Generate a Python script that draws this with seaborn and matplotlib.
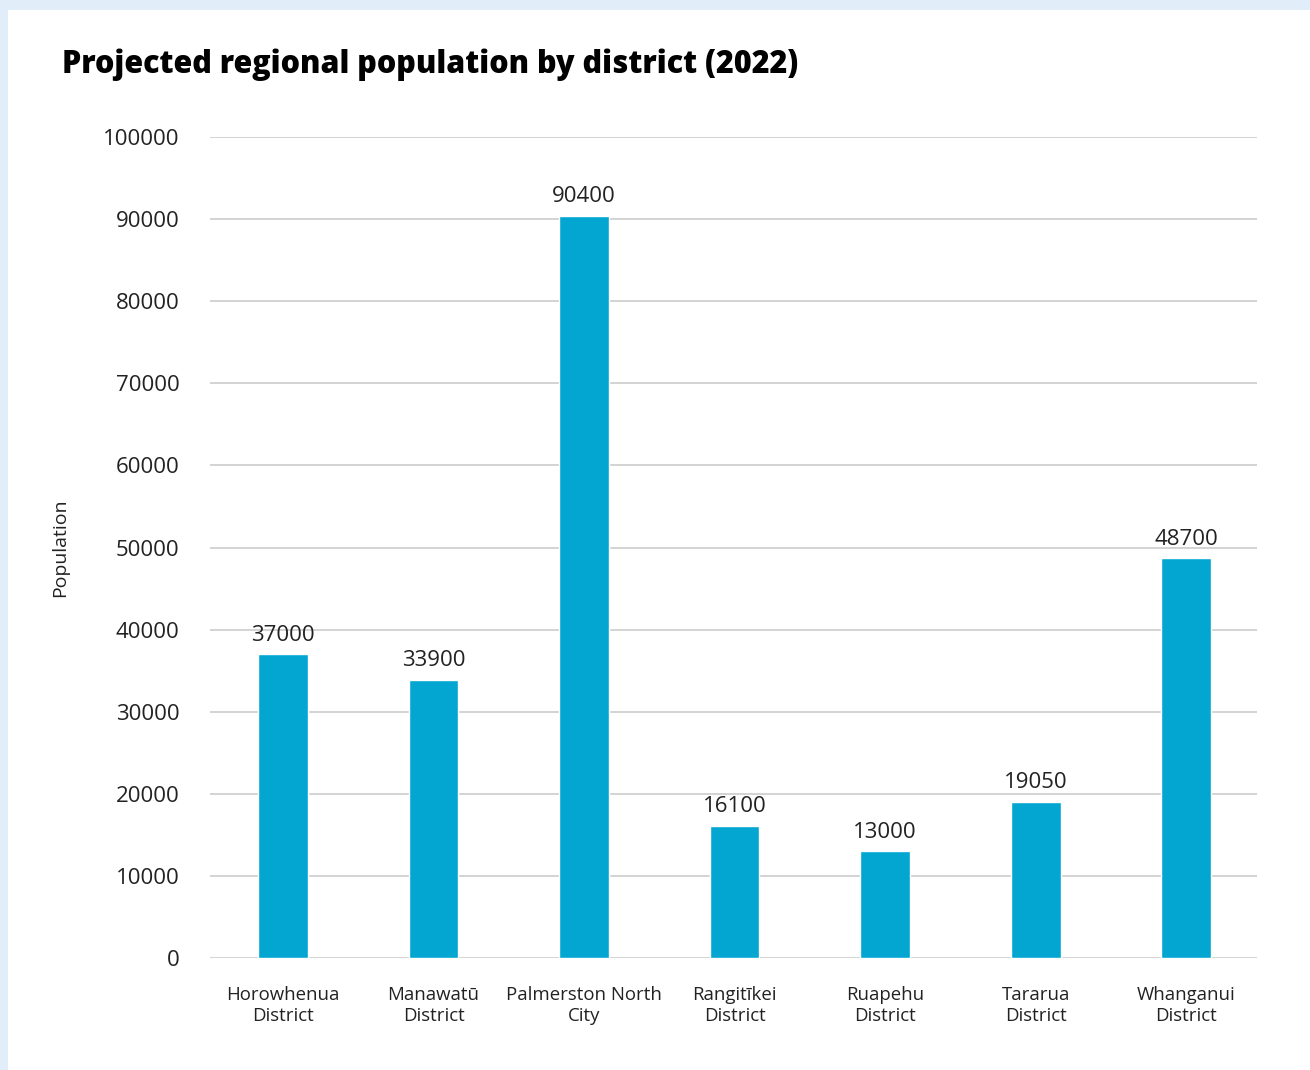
import matplotlib
matplotlib.use("Agg")
import matplotlib.pyplot as plt
import seaborn as sns
import pandas as pd
from matplotlib.patches import Rectangle

districts = ["Horowhenua\nDistrict", "Manawatū\nDistrict", "Palmerston North\nCity",
             "Rangitīkei\nDistrict", "Ruapehu\nDistrict", "Tararua\nDistrict",
             "Whanganui\nDistrict"]
population = [37000, 33900, 90400, 16100, 13000, 19050, 48700]
yticks = [0, 10000, 20000, 30000, 40000, 50000, 60000, 70000, 80000, 90000, 100000]

sns.set_theme(style="white")
plt.rcParams['font.family'] = ['Open Sans', 'DejaVu Sans']

df = pd.DataFrame({"district": districts, "population": population})

fig = plt.figure(figsize=(13.1, 10.7), dpi=100)
fig.patch.set_facecolor("white")
# light blue frame at left and top
fig.patches.append(Rectangle((0, 0), 8/1310, 1, transform=fig.transFigure,
                             facecolor="#e1edf8", edgecolor="none", zorder=0))
fig.patches.append(Rectangle((0, 1 - 10/1070), 1, 10/1070, transform=fig.transFigure,
                             facecolor="#e1edf8", edgecolor="none", zorder=0))

ax = fig.add_axes([210/1310, 1 - 958/1070, (1257-210)/1310, (958-137)/1070])
sns.barplot(data=df, x="district", y="population", color="#02a6d1",
            width=0.33, saturation=1, ax=ax, zorder=3)

ax.set_ylim(0, 100000)
ax.set_xlim(-0.485, 6.47)
ax.set_yticks(yticks)
ax.set_yticklabels([str(v) for v in yticks], fontsize=16, color="#222222")
ax.yaxis.grid(True, color="#cccccc", linewidth=1.2, zorder=0)
ax.set_axisbelow(True)
for s in ax.spines.values():
    s.set_visible(False)
ax.tick_params(axis="y", length=0, pad=22)
ax.tick_params(axis="x", length=0, pad=20, labelsize=13.4, labelcolor="#222222")
ax.set_xlabel("")
ax.set_ylabel("Population", fontsize=14, color="#222222", labelpad=24)
for lab in ax.get_xticklabels():
    lab.set_linespacing(1.2)

for c in ax.containers:
    ax.bar_label(c, labels=[str(v) for v in population], padding=6,
                 fontsize=16, color="#222222")

fig.text(62/1310, 1 - 65/1070, "Projected regional population by district (2022)",
         fontsize=22, fontweight="heavy", color="#000000", va="center", ha="left")

fig.savefig("out.png", dpi=100)
